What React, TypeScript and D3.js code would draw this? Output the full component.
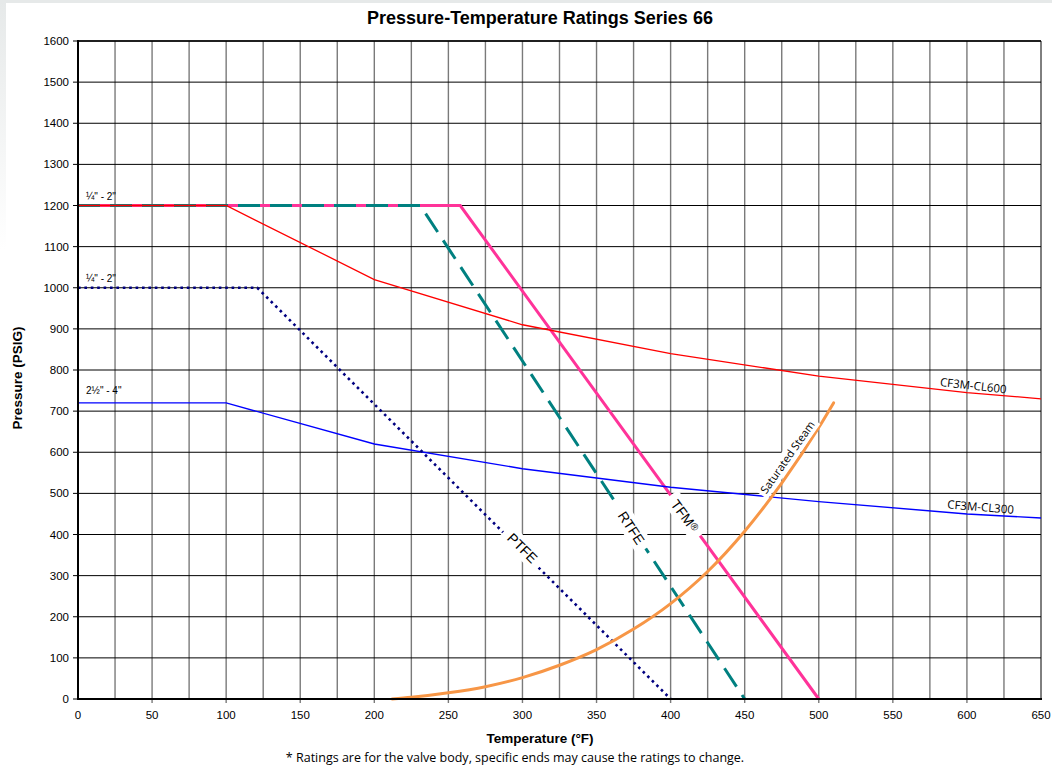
import React from "react";
import * as d3 from "d3";

const W = 1052;
const H = 767;
const M = { left: 78, top: 41, right: 11, bottom: 68 };

const xTicks = [0, 50, 100, 150, 200, 250, 300, 350, 400, 450, 500, 550, 600, 650];
const yTicks = [0, 100, 200, 300, 400, 500, 600, 700, 800, 900, 1000, 1100, 1200, 1300, 1400, 1500, 1600];

// [temperature °F, pressure psig]
const cl600: [number, number][] = [[0, 1200], [100, 1200], [200, 1020], [300, 910], [400, 840], [500, 785], [600, 745], [650, 730]];
const cl300: [number, number][] = [[0, 720], [100, 720], [200, 620], [300, 560], [400, 515], [500, 480], [600, 450], [650, 440]];
const ptfe: [number, number][] = [[0, 1000], [121, 1000], [400, 0]];
const rtfe: [number, number][] = [[0, 1200], [231, 1200], [450, 0]];
const tfm: [number, number][] = [[0, 1200], [258, 1200], [500, 0]];
const steam: [number, number][] = [[212, 0], [225, 4], [250, 15], [275, 30], [300, 52], [325, 82], [350, 120], [375, 170], [400, 232], [425, 310], [450, 408], [475, 525], [500, 660], [510, 720]];

export default function App() {
  const pw = W - M.left - M.right;
  const ph = H - M.top - M.bottom;
  const x = d3.scaleLinear().domain([0, 650]).range([M.left, M.left + pw]);
  const y = d3.scaleLinear().domain([0, 1600]).range([M.top + ph, M.top]);
  const line = d3.line<[number, number]>().x((d) => x(d[0])).y((d) => y(d[1]));
  const curve = d3.line<[number, number]>().x((d) => x(d[0])).y((d) => y(d[1])).curve(d3.curveMonotoneX);
  const minor = d3.range(25, 650, 25);

  const angle = (a: [number, number], b: [number, number]) =>
    (Math.atan2(y(b[1]) - y(a[1]), x(b[0]) - x(a[0])) * 180) / Math.PI;

  const label = (
    txt: React.ReactNode,
    t: number,
    p: number,
    rot: number,
    w: number,
    fam: string,
    size: number
  ) => (
    <g transform={`translate(${x(t)},${y(p)}) rotate(${rot})`}>
      <rect x={-w / 2} y={-size * 0.7} width={w} height={size * 1.4} fill="#fff" />
      <text textAnchor="middle" dy="0.35em" fontFamily={fam} fontSize={size} fill="#000">
        {txt}
      </text>
    </g>
  );

  const arial = "Liberation Sans, Arial, sans-serif";
  const calibri = "Open Sans, Carlito, sans-serif";

  return (
    <div style={{ position: "absolute", left: 0, top: 0 }}>
      <svg width={W} height={H} style={{ display: "block", background: "#fff" }}>
        <defs>
          <linearGradient id="lg" x1="0" y1="0" x2="0" y2="1">
            <stop offset="0" stopColor="#e6e9e9" />
            <stop offset="1" stopColor="#ffffff" />
          </linearGradient>
        </defs>
        <rect x={0} y={0} width={6} height={250} fill="url(#lg)" />
        <rect x={0} y={0} width={W} height={3} fill="#e6e9e9" />

        <text x={540} y={24} textAnchor="middle" fontFamily={arial} fontWeight="bold" fontSize={18}>
          Pressure-Temperature Ratings Series 66
        </text>

        {/* grid */}
        {minor.map((v) => (
          <line key={"v" + v} x1={x(v)} x2={x(v)} y1={y(1600)} y2={y(0) + (v % 50 === 0 ? 4 : 0)} stroke="#7a7a7a" strokeWidth={1.4} />
        ))}
        {yTicks.map((v) => (
          <line key={"h" + v} x1={x(0) - 5} x2={x(650)} y1={y(v)} y2={y(v)} stroke="#000" strokeWidth={1} />
        ))}
        <line x1={x(650)} x2={x(650)} y1={y(1600)} y2={y(0)} stroke="#000" strokeWidth={1} />
        <line x1={x(0)} x2={x(650)} y1={y(1600)} y2={y(1600)} stroke="#000" strokeWidth={1.6} />

        {/* tick labels */}
        {yTicks.map((v) => (
          <text key={"yt" + v} x={x(0) - 9} y={y(v)} dy="0.35em" textAnchor="end" fontFamily={arial} fontSize={11.5}>
            {v}
          </text>
        ))}
        {xTicks.map((v) => (
          <text key={"xt" + v} x={x(v)} y={y(0) + 16} dy="0.35em" textAnchor="middle" fontFamily={arial} fontSize={11.5}>
            {v}
          </text>
        ))}

        {/* series */}
        <path d={line(tfm) || ""} fill="none" stroke="#ff3399" strokeWidth={3} />
        <path d={line(rtfe) || ""} fill="none" stroke="#008080" strokeWidth={3} strokeDasharray="22 10" />
        <path d={line(cl600) || ""} fill="none" stroke="#ff0000" strokeWidth={1.3} />
        <path d={line(cl300) || ""} fill="none" stroke="#0000ff" strokeWidth={1.4} />
        <path d={line(ptfe) || ""} fill="none" stroke="#000080" strokeWidth={2.6} strokeDasharray="2.6 3.8" />
        <path d={curve(steam) || ""} fill="none" stroke="#f79646" strokeWidth={3} strokeLinecap="round" />

        {/* axes */}
        <line x1={x(0)} x2={x(0)} y1={y(1600) - 1} y2={y(0) + 1} stroke="#000" strokeWidth={2} />
        <line x1={x(0) - 1} x2={x(650) + 1} y1={y(0)} y2={y(0)} stroke="#000" strokeWidth={2} />

        {/* size labels */}
        <text x={86} y={y(1200) - 6} fontFamily={arial} fontSize={10}>¼" - 2"</text>
        <text x={86} y={y(1000) - 6} fontFamily={arial} fontSize={10}>¼" - 2"</text>
        <text x={86} y={y(720) - 9} fontFamily={arial} fontSize={10}>2½" - 4"</text>

        {/* line labels */}
        {label("PTFE", 300, 367, angle(ptfe[1], ptfe[2]), 50, arial, 14)}
        {label("RTFE", 373.5, 416, angle(rtfe[1], rtfe[2]), 50, arial, 14)}
        {label(<>TFM<tspan fontSize={10} dy="-0.3em">®</tspan></>, 409.5, 445, angle(tfm[1], tfm[2]), 50, arial, 14)}
        {label("Saturated Steam", 479, 588, -55, 92, calibri, 11)}

        <text transform={`translate(${x(604)},${y(752)}) rotate(${angle(cl600[5], cl600[6])})`} fontFamily={calibri} fontSize={11.5} textAnchor="middle">
          CF3M-CL600
        </text>
        <text transform={`translate(${x(609)},${y(457)}) rotate(${angle(cl300[5], cl300[6])})`} fontFamily={calibri} fontSize={11.5} textAnchor="middle">
          CF3M-CL300
        </text>

        {/* axis titles */}
        <text x={540} y={743} textAnchor="middle" fontFamily={arial} fontWeight="bold" fontSize={13.5}>
          Temperature (°F)
        </text>
        <text transform={`translate(22,378) rotate(-90)`} textAnchor="middle" fontFamily={arial} fontWeight="bold" fontSize={13.5}>
          Pressure (PSIG)
        </text>
        <text x={515} y={762} textAnchor="middle" fontFamily={calibri} fontSize={12.5}>
          * Ratings are for the valve body, specific ends may cause the ratings to change.
        </text>
      </svg>
    </div>
  );
}
